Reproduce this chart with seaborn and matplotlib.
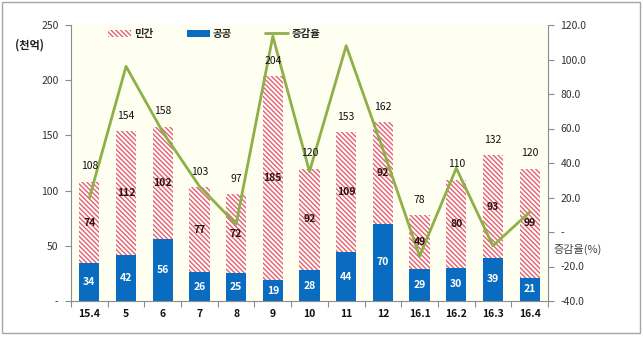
import matplotlib
matplotlib.use('Agg')
import matplotlib.pyplot as plt
import seaborn as sns
import numpy as np
import pandas as pd
from matplotlib.patches import Rectangle, Patch
from matplotlib.lines import Line2D

categories = ['15.4', '5', '6', '7', '8', '9', '10', '11', '12', '16.1', '16.2', '16.3', '16.4']
public = [34, 42, 56, 26, 25, 19, 28, 44, 70, 29, 30, 39, 21]
private = [74, 112, 102, 77, 72, 185, 92, 109, 92, 49, 80, 93, 99]
total = [108, 154, 158, 103, 97, 204, 120, 153, 162, 78, 110, 132, 120]
growth = [19.7, 96.0, 58.0, 26.5, 4.5, 113.5, 35.0, 108.0, 48.0, -14.0, 37.0, -8.0, 11.5]
left_ticks = [0, 50, 100, 150, 200, 250]
left_labels = ['-', '50', '100', '150', '200', '250']
right_ticks = [-40, -20, 0, 20, 40, 60, 80, 100, 120]
right_labels = ['-40.0', '-20.0', '-', '20.0', '40.0', '60.0', '80.0', '100.0', '120.0']
legend_labels = ['민간', '공공', '증감율']

BLUE = '#0A6CC0'
PINK = '#E4606E'
GREEN = '#8DB048'
HATCH = '\\' * 7

sns.set_theme(style='ticks')
plt.rcParams['font.family'] = ['Noto Sans CJK KR', 'DejaVu Sans']
plt.rcParams['hatch.linewidth'] = 1.0

fig = plt.figure(figsize=(6.43, 3.38), dpi=100)
ax = fig.add_axes([71/643, 37/338, 477/643, 276/338])
ax.set_facecolor('#FEFFF0')

df = pd.DataFrame({'cat': categories, 'public': public, 'private': private, 'total': total})
sns.barplot(data=df, x='cat', y='total', ax=ax, color='white', width=0.55, saturation=1)
for p in ax.patches:
    p.set_hatch(HATCH)
    p.set_edgecolor(PINK)
    p.set_linewidth(0)
n0 = len(ax.patches)
sns.barplot(data=df, x='cat', y='public', ax=ax, color=BLUE, width=0.55, saturation=1)
for p in ax.patches[n0:]:
    p.set_linewidth(0)

ax.set_ylim(0, 250)
ax.set_yticks(left_ticks)
ax.set_yticklabels(left_labels)
ax.set_xlabel('')
ax.set_ylabel('')
for s in ['top', 'right']:
    ax.spines[s].set_visible(False)
for s in ['left', 'bottom']:
    ax.spines[s].set_color('#8C8C8C')
    ax.spines[s].set_linewidth(0.8)
ax.tick_params(axis='y', length=4, width=0.8, color='#8C8C8C', labelsize=7.5, labelcolor='#333333', pad=5)
ax.tick_params(axis='x', which='major', length=0, labelsize=7.5, labelcolor='#111111', pad=6)
ax.set_xticks(np.arange(-0.5, len(categories), 1.0), minor=True)
ax.tick_params(axis='x', which='minor', length=4, width=0.8, color='#8C8C8C')
for lab in ax.get_xticklabels():
    lab.set_fontweight('bold')

ax2 = ax.twinx()
sns.lineplot(x=np.arange(len(categories)), y=growth, ax=ax2, color=GREEN, linewidth=2.0)
ax2.set_ylim(-40, 120)
ax2.set_yticks(right_ticks)
ax2.set_yticklabels(right_labels)
ax2.set_ylabel('')
for s in ['top', 'left', 'bottom']:
    ax2.spines[s].set_visible(False)
ax2.spines['right'].set_color('#8C8C8C')
ax2.spines['right'].set_linewidth(0.8)
ax2.tick_params(axis='y', length=4, width=0.8, color='#8C8C8C', labelsize=7.5, labelcolor='#333333', pad=5)
ax.set_xlim(-0.5, len(categories) - 0.5)
ax2.set_xlim(-0.5, len(categories) - 0.5)

# value labels drawn above the line
for i in range(len(categories)):
    ax2.annotate(str(total[i]), (i, total[i]), xycoords=ax.transData, xytext=(0, 11),
                 textcoords='offset points', ha='center', va='center', fontsize=7.5,
                 color='#111111', zorder=5)
    ax2.text(i, public[i] + private[i] / 2, str(private[i]), transform=ax.transData,
             ha='center', va='center', fontsize=7.5, fontweight='bold', color='#2E1212', zorder=5)
    ax2.text(i, public[i] / 2, str(public[i]), transform=ax.transData, ha='center',
             va='center', fontsize=7.5, fontweight='bold', color='white', zorder=5)

handles = [Patch(facecolor='white', hatch=HATCH, edgecolor=PINK, linewidth=0),
           Patch(facecolor=BLUE, edgecolor='none'),
           Line2D([], [], color=GREEN, linewidth=2.0)]
ax2.legend(handles, legend_labels, loc='center', bbox_to_anchor=(0.30, 0.967), ncol=3,
           frameon=False, columnspacing=3.2, handlelength=2.2,
           handletextpad=0.3, prop={'weight': 'bold', 'size': 7.5})

fig.text(30/643, 1 - 45/338, '(천억)', ha='center', va='center', fontsize=8,
         fontweight='bold', color='#222222')
fig.text(578/643, 1 - 249/338, '증감율(%)', ha='center', va='center', fontsize=8,
         color='#444444')

fig.add_artist(Rectangle((2/643, 5/338), 638/643, 331/338, transform=fig.transFigure,
                         fill=False, edgecolor='#A6A6A6', linewidth=1))

fig.savefig('out.png', dpi=100)
